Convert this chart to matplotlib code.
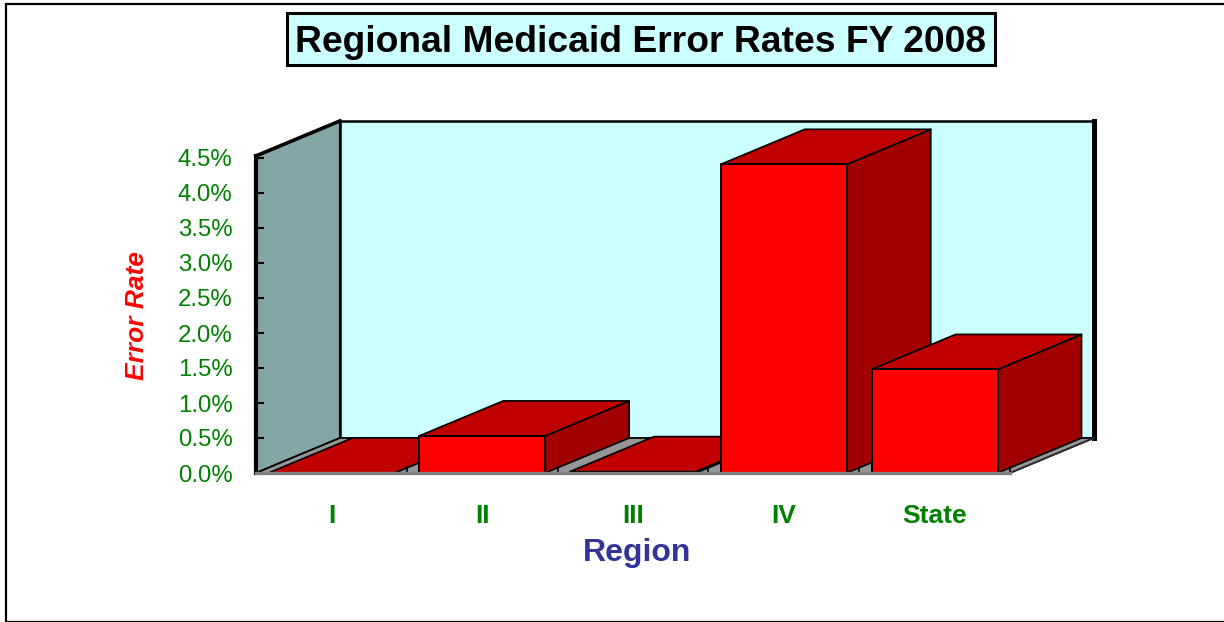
import matplotlib
matplotlib.use("Agg")
import matplotlib.pyplot as plt
from matplotlib.patches import Rectangle

plt.rcParams['font.family'] = ['Liberation Sans', 'DejaVu Sans']

regions = ['I', 'II', 'III', 'IV', 'State']
error_rates = [0.0, 0.53, 0.02, 4.41, 1.48]
y_ticks = [0.0, 0.5, 1.0, 1.5, 2.0, 2.5, 3.0, 3.5, 4.0, 4.5]

W, H = 1224, 622
DEPTH_X = 0.557
DEPTH_Y = 0.5
BAR_W = 0.835

fig = plt.figure(figsize=(W / 100, H / 100), dpi=100)
ax = fig.add_axes([256 / W, (H - 473) / H, 754 / W, 315 / H])
ax.set_xlim(-0.5, 4.5)
ax.set_ylim(0, 4.5)
ax.patch.set_visible(False)

# outer frame
fig.patches.append(Rectangle((5.5 / W, 0.5 / H), 1225 / W, 618 / H, transform=fig.transFigure,
                             fill=False, ec='black', lw=1.6))

x0, x1 = -0.5, 4.5
ytop = 4.53


def poly(xs, ys, color, edge='black', lw=1.2, z=1):
    ax.fill(xs, ys, facecolor=color, edgecolor=edge, linewidth=lw, clip_on=False, zorder=z,
            joinstyle='round')


# walls and floor
poly([x0 + DEPTH_X, x1 + DEPTH_X, x1 + DEPTH_X, x0 + DEPTH_X],
     [DEPTH_Y, DEPTH_Y, ytop + DEPTH_Y, ytop + DEPTH_Y], '#CCFFFF', lw=1.8)
poly([x0, x0 + DEPTH_X, x0 + DEPTH_X, x0],
     [0, DEPTH_Y, ytop + DEPTH_Y, ytop], '#84A6A6', lw=1.5)
poly([x0, x1, x1 + DEPTH_X, x0 + DEPTH_X], [0, 0, DEPTH_Y, DEPTH_Y], '#969696', lw=1.2)

# heavy edges of the box
ax.plot([x0, x0 + DEPTH_X], [ytop, ytop + DEPTH_Y], color='black', lw=2.6, clip_on=False, zorder=1)
ax.plot([x1 + DEPTH_X] * 2, [DEPTH_Y, ytop + DEPTH_Y], color='black', lw=3.6, clip_on=False, zorder=1)
ax.plot([x0] * 2, [0, ytop], color='black', lw=3, clip_on=False, zorder=5)
ax.plot([x1, x1 + DEPTH_X], [0, DEPTH_Y], color='#303030', lw=1.2, clip_on=False, zorder=1)

# bars
for i, v in enumerate(error_rates):
    l = i - BAR_W / 2
    r = i + BAR_W / 2
    poly([r, r + DEPTH_X, r + DEPTH_X, r], [0, DEPTH_Y, v + DEPTH_Y, v], '#A00000')
    poly([l, r, r + DEPTH_X, l + DEPTH_X], [v, v, v + DEPTH_Y, v + DEPTH_Y], '#C00000')
    poly([l, r, r, l], [0, 0, v, v], '#FF0000', lw=1.4)

for s in ['top', 'right', 'left']:
    ax.spines[s].set_visible(False)
ax.spines['bottom'].set_linewidth(2.4)
ax.spines['bottom'].set_color('#808080')
ax.spines['bottom'].set_zorder(5)

ax.set_yticks(y_ticks)
ax.set_yticklabels(['%.1f%%' % t for t in y_ticks])
ax.tick_params(axis='y', direction='in', length=6, width=1.5, pad=17, labelsize=17.3, labelcolor='#008000')
ax.set_xticks(range(len(regions)))
ax.set_xticklabels(regions, fontweight='bold')
ax.tick_params(axis='x', which='major', length=0, pad=22.5, labelsize=19, labelcolor='#008000')
ax.set_xticks([0.5, 1.5, 2.5, 3.5, 4.5], minor=True)
ax.tick_params(axis='x', which='minor', direction='in', length=5, width=1.2, color='black')

fig.text(637 / W, 1 - 553 / H, 'Region', color='#333399', fontsize=23, fontweight='bold',
         ha='center', va='center')
fig.text(137 / W, 1 - 316 / H, 'Error Rate', color='#FF0000', fontsize=19, fontweight='bold',
         style='italic', rotation=90, ha='center', va='center')

fig.patches.append(Rectangle((286.5 / W, 1 - 65 / H), 709 / W, 52 / H, transform=fig.transFigure,
                             facecolor='#CCFFFF', edgecolor='black', lw=2.2))
fig.text(640.5 / W, 1 - 42 / H, 'Regional Medicaid Error Rates FY 2008', color='black', fontsize=26.8,
         fontweight='bold', ha='center', va='center')

fig.savefig('out.png', dpi=100)
